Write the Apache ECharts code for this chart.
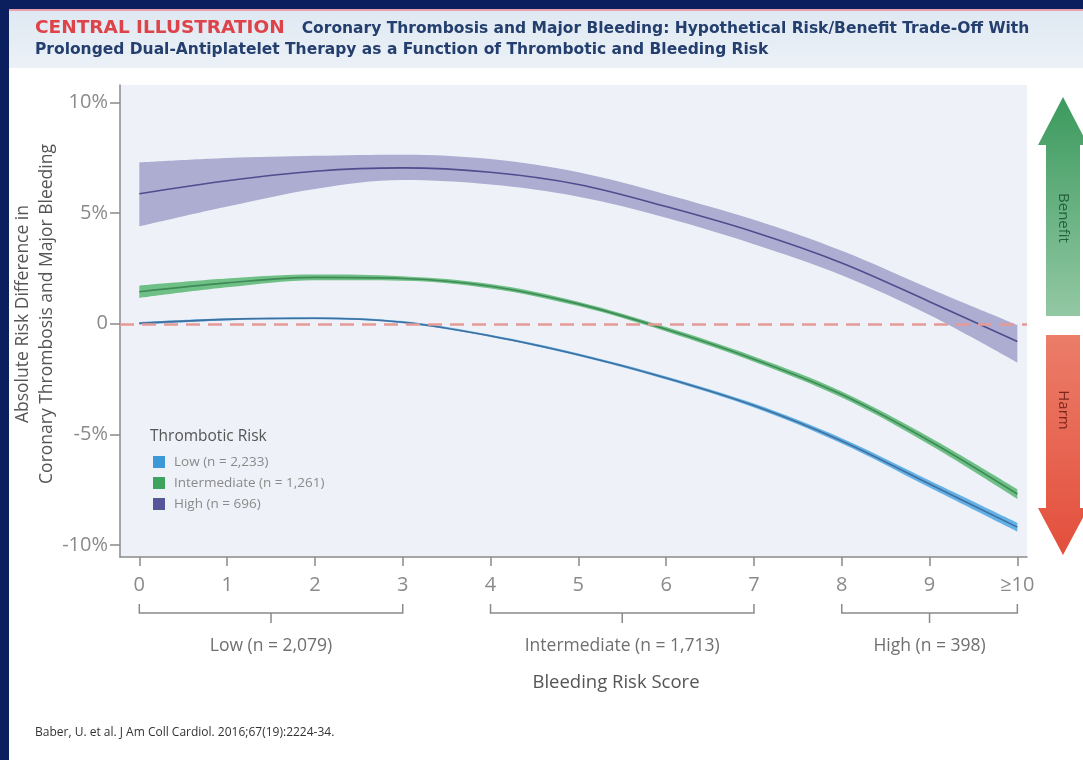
<!DOCTYPE html>
<html><head><meta charset="utf-8">
<script src="https://cdn.jsdelivr.net/npm/echarts@6/dist/echarts.min.js"></script>
<style>html,body{margin:0;padding:0;background:#fff;}#c{width:1083px;height:760px;}</style>
</head><body><div id="c"></div>
<script>
// ---- data ----
const scores = [0, 1, 2, 3, 4, 5, 6, 7, 8, 9, 10];
const xTickLabels = ['0', '1', '2', '3', '4', '5', '6', '7', '8', '9', '≥10'];
const yTicks = [-10, -5, 0, 5, 10];
const yTickLabels = ['-10%', '-5%', '0', '5%', '10%'];

const thromboNames = ['Low (n = 2,233)', 'Intermediate (n = 1,261)', 'High (n = 696)'];

const lowMid   = [0.02, 0.20, 0.25, 0.07, -0.55, -1.40, -2.45, -3.70, -5.30, -7.25, -9.20];
const lowUpper = [0.08, 0.25, 0.30, 0.12, -0.50, -1.34, -2.38, -3.61, -5.18, -7.09, -9.00];
const lowLower = [-0.04, 0.15, 0.20, 0.02, -0.60, -1.46, -2.52, -3.79, -5.42, -7.41, -9.40];

const intMid   = [1.45, 1.85, 2.10, 2.05, 1.70, 0.90, -0.25, -1.60, -3.20, -5.30, -7.70];
const intUpper = [1.73, 2.05, 2.23, 2.15, 1.80, 1.00, -0.15, -1.48, -3.06, -5.13, -7.48];
const intLower = [1.17, 1.65, 1.97, 1.95, 1.60, 0.80, -0.35, -1.72, -3.34, -5.47, -7.92];

const highMid   = [5.88, 6.47, 6.90, 7.05, 6.85, 6.30, 5.30, 4.15, 2.75, 1.00, -0.80];
const highUpper = [7.30, 7.50, 7.60, 7.65, 7.45, 6.85, 5.85, 4.70, 3.30, 1.60, -0.05];
const highLower = [4.40, 5.30, 6.10, 6.50, 6.30, 5.75, 4.80, 3.60, 2.20, 0.40, -1.75];

const bleedGroups = ['Low (n = 2,079)', 'Intermediate (n = 1,713)', 'High (n = 398)'];
const bleedFrom = [0, 4, 8];
const bleedTo = [3, 7, 10];

// ---- styling ----
const FONT = 'Open Sans';
const smooth = 0.35;

// value dimension listed first so that stacking is applied to y
const dimSpec = { dimensions: ['v', 's'], encode: { x: 's', y: 'v' } };

function group(key, name, lower, upper, mid, bandColor, lineColor, legendColor) {
  return [
    Object.assign({ name: key + '_lo', type: 'line', stack: key, stackStrategy: 'all',
      data: scores.map((s, i) => [lower[i], s]), symbol: 'none', smooth,
      lineStyle: { opacity: 0 }, silent: true, z: 2 }, dimSpec),
    Object.assign({ name: key + '_band', type: 'line', stack: key, stackStrategy: 'all',
      data: scores.map((s, i) => [upper[i] - lower[i], s]), symbol: 'none', smooth,
      lineStyle: { opacity: 0 }, areaStyle: { color: bandColor, opacity: 1 }, silent: true, z: 2 }, dimSpec),
    { name, type: 'line', data: scores.map((s, i) => [s, mid[i]]), symbol: 'none', smooth,
      lineStyle: { color: lineColor, width: 1.6 }, itemStyle: { color: legendColor }, z: 3 }
  ];
}

const series = [].concat(
  group('high', thromboNames[2], highLower, highUpper, highMid, '#adacd1', '#4e4d8d', '#56569a'),
  group('int', thromboNames[1], intLower, intUpper, intMid, '#6fc086', '#3f8a57', '#3ea35c'),
  group('low', thromboNames[0], lowLower, lowUpper, lowMid, '#63b1e6', '#41709e', '#3c98d8')
);
series.push({
  name: 'zero', type: 'line', data: [], silent: true, z: 5,
  markLine: { silent: true, symbol: 'none', label: { show: false },
    lineStyle: { color: '#e59a96', width: 2.5, type: [14, 8] },
    data: [{ yAxis: 0 }] }
});

const chart = echarts.init(document.getElementById('c'), null, { renderer: 'canvas' });
chart.setOption({
  animation: false,
  backgroundColor: '#ffffff',
  textStyle: { fontFamily: FONT },
  grid: { left: 120, right: 56, top: 85, bottom: 203, show: true, backgroundColor: '#eef1f7', borderWidth: 0 },
  legend: {
    data: [
      { name: thromboNames[0], itemStyle: { color: '#3c98d8', borderWidth: 0 } },
      { name: thromboNames[1], itemStyle: { color: '#3ea35c', borderWidth: 0 } },
      { name: thromboNames[2], itemStyle: { color: '#56569a', borderWidth: 0 } }
    ],
    orient: 'vertical', left: 153, top: 455, padding: 0, itemGap: 7,
    itemWidth: 12, itemHeight: 12, icon: 'rect', selectedMode: false,
    textStyle: { fontFamily: FONT, fontSize: 13.5, color: '#8a8a8a', padding: [0, 0, 0, 4] }
  },
  xAxis: {
    type: 'value', min: -0.22, max: 10.11,
    axisLine: { show: true, onZero: false, lineStyle: { color: '#8a8a8a', width: 1.5 } },
    axisTick: { show: true, customValues: scores, length: 9, lineStyle: { color: '#8a8a8a', width: 1.5 } },
    axisLabel: { customValues: scores, formatter: v => xTickLabels[scores.indexOf(Math.round(v))],
      margin: 18, fontSize: 20, color: '#8a8a8a', fontFamily: FONT },
    splitLine: { show: false }
  },
  yAxis: {
    type: 'value', min: -10.55, max: 10.8,
    axisLine: { show: true, onZero: false, lineStyle: { color: '#8a8a8a', width: 1.5 } },
    axisTick: { show: true, customValues: yTicks, length: 10, lineStyle: { color: '#8a8a8a', width: 1.5 } },
    axisLabel: { customValues: yTicks, formatter: v => yTickLabels[yTicks.indexOf(Math.round(v))],
      margin: 12, fontSize: 20, color: '#8a8a8a', fontFamily: FONT },
    splitLine: { show: false }
  },
  series
});

// ---- decorations and annotations ----
const bottomY = chart.convertToPixel({ yAxisIndex: 0 }, -10.55);
const g = [];
g.push({ type: 'rect', shape: { x: 9, y: 9, width: 1074, height: 59 }, z: 0,
  style: { fill: new echarts.graphic.LinearGradient(0, 0, 0, 1, [{ offset: 0, color: '#dfe8f2' }, { offset: 1, color: '#ebf1f7' }]) } });
g.push({ type: 'rect', shape: { x: 9, y: 9, width: 1074, height: 2 }, z: 1, style: { fill: '#e6a3ab' } });
g.push({ type: 'rect', shape: { x: 0, y: 0, width: 1083, height: 9 }, z: 2, style: { fill: '#0b1f5e' } });
g.push({ type: 'rect', shape: { x: 0, y: 0, width: 9, height: 760 }, z: 2, style: { fill: '#0b1f5e' } });
g.push({ type: 'text', x: 35, y: 18, z: 3, style: {
  text: '{r|CENTRAL ILLUSTRATION}{b|Coronary Thrombosis and Major Bleeding: Hypothetical Risk/Benefit Trade-Off With}\n{b|Prolonged Dual-Antiplatelet Therapy as a Function of Thrombotic and Bleeding Risk}',
  rich: {
    r: { fontFamily: 'DejaVu Sans', fontWeight: 'bold', fontSize: 18.5, fill: '#dd4348', lineHeight: 21, padding: [0, 17, 0, 0] },
    b: { fontFamily: 'DejaVu Sans', fontWeight: 'bold', fontSize: 15.5, fill: '#243f6e', lineHeight: 21 }
  } } });
// y-axis title
g.push({ type: 'text', x: 35, y: 314, rotation: Math.PI / 2, z: 4,
  style: { text: 'Absolute Risk Difference in\nCoronary Thrombosis and Major Bleeding', fontFamily: FONT, fontSize: 17.5,
    lineHeight: 24, fill: '#555', align: 'center', verticalAlign: 'middle' } });
g.push({ type: 'polygon', z: 3, shape: { points: [[1063, 97], [1088, 145], [1080, 145], [1080, 316], [1046, 316], [1046, 145], [1038, 145]] },
  style: { fill: new echarts.graphic.LinearGradient(0, 0, 0, 1, [{ offset: 0, color: '#3b9a5d' }, { offset: 1, color: '#93c8a4' }]) } });
g.push({ type: 'polygon', z: 3, shape: { points: [[1046, 335], [1080, 335], [1080, 508], [1088, 508], [1063, 555], [1038, 508], [1046, 508]] },
  style: { fill: new echarts.graphic.LinearGradient(0, 0, 0, 1, [{ offset: 0, color: '#eb7d69' }, { offset: 1, color: '#e34f3c' }]) } });
g.push({ type: 'text', x: 1063, y: 218, rotation: -Math.PI / 2, z: 4,
  style: { text: 'Benefit', fontFamily: FONT, fontSize: 15, fill: '#24603c', align: 'center', verticalAlign: 'middle' } });
g.push({ type: 'text', x: 1063, y: 410, rotation: -Math.PI / 2, z: 4,
  style: { text: 'Harm', fontFamily: FONT, fontSize: 15, fill: '#7a261b', align: 'center', verticalAlign: 'middle' } });
g.push({ type: 'text', x: 150, y: 437, z: 4,
  style: { text: 'Thrombotic Risk', fontFamily: FONT, fontSize: 15.5, fill: '#555', align: 'left', verticalAlign: 'middle' } });
bleedGroups.forEach((name, i) => {
  const x0 = chart.convertToPixel({ xAxisIndex: 0 }, bleedFrom[i]);
  const x1 = chart.convertToPixel({ xAxisIndex: 0 }, bleedTo[i]);
  const xm = (x0 + x1) / 2;
  const yb = bottomY + 56;
  const ls = { stroke: '#8a8a8a', lineWidth: 1.5, fill: null };
  g.push({ type: 'polyline', shape: { points: [[x0, yb - 9], [x0, yb], [x1, yb], [x1, yb - 9]] }, style: ls });
  g.push({ type: 'line', shape: { x1: xm, y1: yb, x2: xm, y2: yb + 10 }, style: ls });
  g.push({ type: 'text', x: xm, y: bottomY + 89, style: { text: name, fontFamily: FONT, fontSize: 17.5, fill: '#6f6f6f', align: 'center', verticalAlign: 'middle' } });
});
g.push({ type: 'text', x: 616, y: 683, style: { text: 'Bleeding Risk Score', fontFamily: FONT, fontSize: 18.5, fill: '#555', align: 'center', verticalAlign: 'middle' } });
g.push({ type: 'text', x: 35, y: 733, style: { text: 'Baber, U. et al. J Am Coll Cardiol. 2016;67(19):2224-34.', fontFamily: FONT, fontSize: 12, fill: '#333', align: 'left', verticalAlign: 'middle' } });

chart.setOption({ graphic: { elements: g } });
</script></body></html>
